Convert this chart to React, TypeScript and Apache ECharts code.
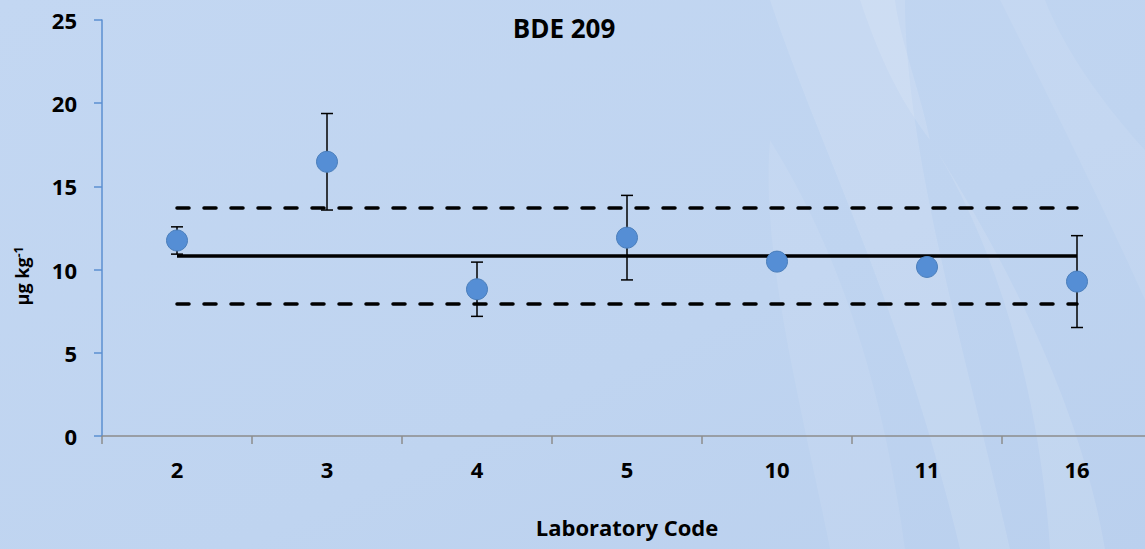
import React, { useEffect, useRef } from "react";
import * as echarts from "echarts";

const labs = ["2", "3", "4", "5", "10", "11", "16"];
const values = [11.75, 16.48, 8.82, 11.92, 10.48, 10.16, 9.28];
const errors: (number | null)[] = [0.82, 2.9, 1.63, 2.54, null, null, 2.76];
const meanValue = 10.82;
const upperLimit = 13.72;
const lowerLimit = 7.92;
const yTicks = { min: 0, max: 25, interval: 5 };

const FONT = "'Open Sans', 'DejaVu Sans', sans-serif";

const leafPaths = [
  "M 770 0 C 820 150 900 300 960 549 L 1010 549 C 965 350 905 150 905 0 Z",
  "M 830 549 C 800 400 760 250 770 140 C 845 260 885 400 905 549 Z",
  "M 930 140 C 1000 250 1040 400 1050 549 L 1105 549 C 1080 400 1000 250 930 140 Z",
  "M 1000 0 C 1050 100 1100 200 1145 300 L 1145 150 C 1100 100 1065 50 1045 0 Z",
  "M 860 0 C 880 60 900 100 930 140 C 920 90 900 40 895 0 Z",
];

let registered = false;
function registerLeaves() {
  if (registered) return;
  leafPaths.forEach((d, i) => {
    echarts.graphic.registerShape("leaf" + i, echarts.graphic.extendPath(d, {}));
  });
  registered = true;
}

export default function App() {
  const ref = useRef<HTMLDivElement>(null);
  useEffect(() => {
    if (!ref.current) return;
    registerLeaves();
    const chart = echarts.init(ref.current, undefined, { renderer: "svg" });

    const errData = errors
      .map((e, i) => (e == null ? null : [i, values[i] - e, values[i] + e]))
      .filter((d) => d !== null);

    const hLine = (v: number) => [
      { coord: [labs[0], v] },
      { coord: [labs[labs.length - 1], v] },
    ];

    chart.setOption({
      animation: false,
      backgroundColor: {
        type: "linear",
        x: 0,
        y: 0,
        x2: 1,
        y2: 1,
        colorStops: [
          { offset: 0, color: "#c3d7f2" },
          { offset: 0.6, color: "#bfd4f0" },
          { offset: 1, color: "#bad0ee" },
        ],
      },
      graphic: [
        ...leafPaths.map((_, i) => ({
          type: "leaf" + i,
          x: 0,
          y: 0,
          silent: true,
          z: -10,
          style: { fill: i % 2 === 0 ? "rgba(255,255,255,0.11)" : "rgba(255,255,255,0.08)" },
        })),
        {
          type: "text",
          x: 564,
          y: 28,
          style: {
            text: "BDE 209",
            fill: "#000",
            font: `bold 26px ${FONT}`,
            textAlign: "center",
            textVerticalAlign: "middle",
          },
        },
        {
          type: "text",
          x: 22,
          y: 276,
          rotation: Math.PI / 2,
          style: {
            text: "{a|µg kg}{s|-1}",
            fill: "#000",
            textAlign: "center",
            textVerticalAlign: "middle",
            rich: {
              a: { fontFamily: FONT, fontWeight: "bold", fontSize: 18, fill: "#000" },
              s: { fontFamily: FONT, fontWeight: "bold", fontSize: 12, fill: "#000", verticalAlign: "top", padding: [0, 0, 8, 0] },
            },
          },
        },
      ],
      grid: { left: 102, top: 20, width: 1050, height: 416, containLabel: false },
      xAxis: {
        type: "category",
        data: labs,
        boundaryGap: true,
        name: "Laboratory Code",
        nameLocation: "middle",
        nameGap: 80,
        nameTextStyle: { fontFamily: FONT, fontWeight: "bold", fontSize: 22, color: "#000" },
        axisLine: { lineStyle: { color: "#8c8c8c", width: 1.5 } },
        axisTick: { show: true, alignWithLabel: false, length: 8, lineStyle: { color: "#8c8c8c", width: 1.5 } },
        axisLabel: { fontFamily: FONT, fontWeight: "bold", fontSize: 22, color: "#000", margin: 22 },
        splitLine: { show: false },
      },
      yAxis: {
        type: "value",
        min: yTicks.min,
        max: yTicks.max,
        interval: yTicks.interval,
        axisLine: { show: true, lineStyle: { color: "#5b8fd0", width: 1.5 } },
        axisTick: { show: true, length: 8, lineStyle: { color: "#5b8fd0", width: 1.5 } },
        axisLabel: { fontFamily: FONT, fontWeight: "bold", fontSize: 22, color: "#000", margin: 25 },
        splitLine: { show: false },
      },
      series: [
        {
          type: "line",
          data: [],
          silent: true,
          markLine: {
            silent: true,
            symbol: "none",
            label: { show: false },
            data: [
              hLine(meanValue).map((p) => ({ ...p, lineStyle: { type: "solid", color: "#000", width: 3.5 } })),
              hLine(upperLimit).map((p) => ({ ...p, lineStyle: { type: [12, 15], color: "#000", width: 3.5, cap: "round" } })),
              hLine(lowerLimit).map((p) => ({ ...p, lineStyle: { type: [12, 15], color: "#000", width: 3.5, cap: "round" } })),
            ],
          },
        },
        {
          type: "custom",
          data: errData,
          z: 3,
          renderItem: (params: any, api: any) => {
            const x = api.value(0);
            const lo = api.coord([x, api.value(1)]);
            const hi = api.coord([x, api.value(2)]);
            const half = 6;
            const style = { stroke: "#000", lineWidth: 1.5 };
            return {
              type: "group",
              children: [
                { type: "line", shape: { x1: lo[0], y1: lo[1], x2: hi[0], y2: hi[1] }, style },
                { type: "line", shape: { x1: lo[0] - half, y1: lo[1], x2: lo[0] + half, y2: lo[1] }, style },
                { type: "line", shape: { x1: hi[0] - half, y1: hi[1], x2: hi[0] + half, y2: hi[1] }, style },
              ],
            };
          },
        },
        {
          type: "scatter",
          data: values,
          z: 5,
          symbol: "circle",
          symbolSize: 21,
          itemStyle: { color: "#558ed5", borderColor: "#4a7ebb", borderWidth: 1, opacity: 1 },
        },
      ],
    });
    return () => chart.dispose();
  }, []);
  return (
    <div style={{ position: "absolute", left: 0, top: 0, width: 1145, height: 549, overflow: "hidden" }}>
      <div ref={ref} style={{ position: "absolute", left: 0, top: 0, width: 1160, height: 549 }} />
    </div>
  );
}
